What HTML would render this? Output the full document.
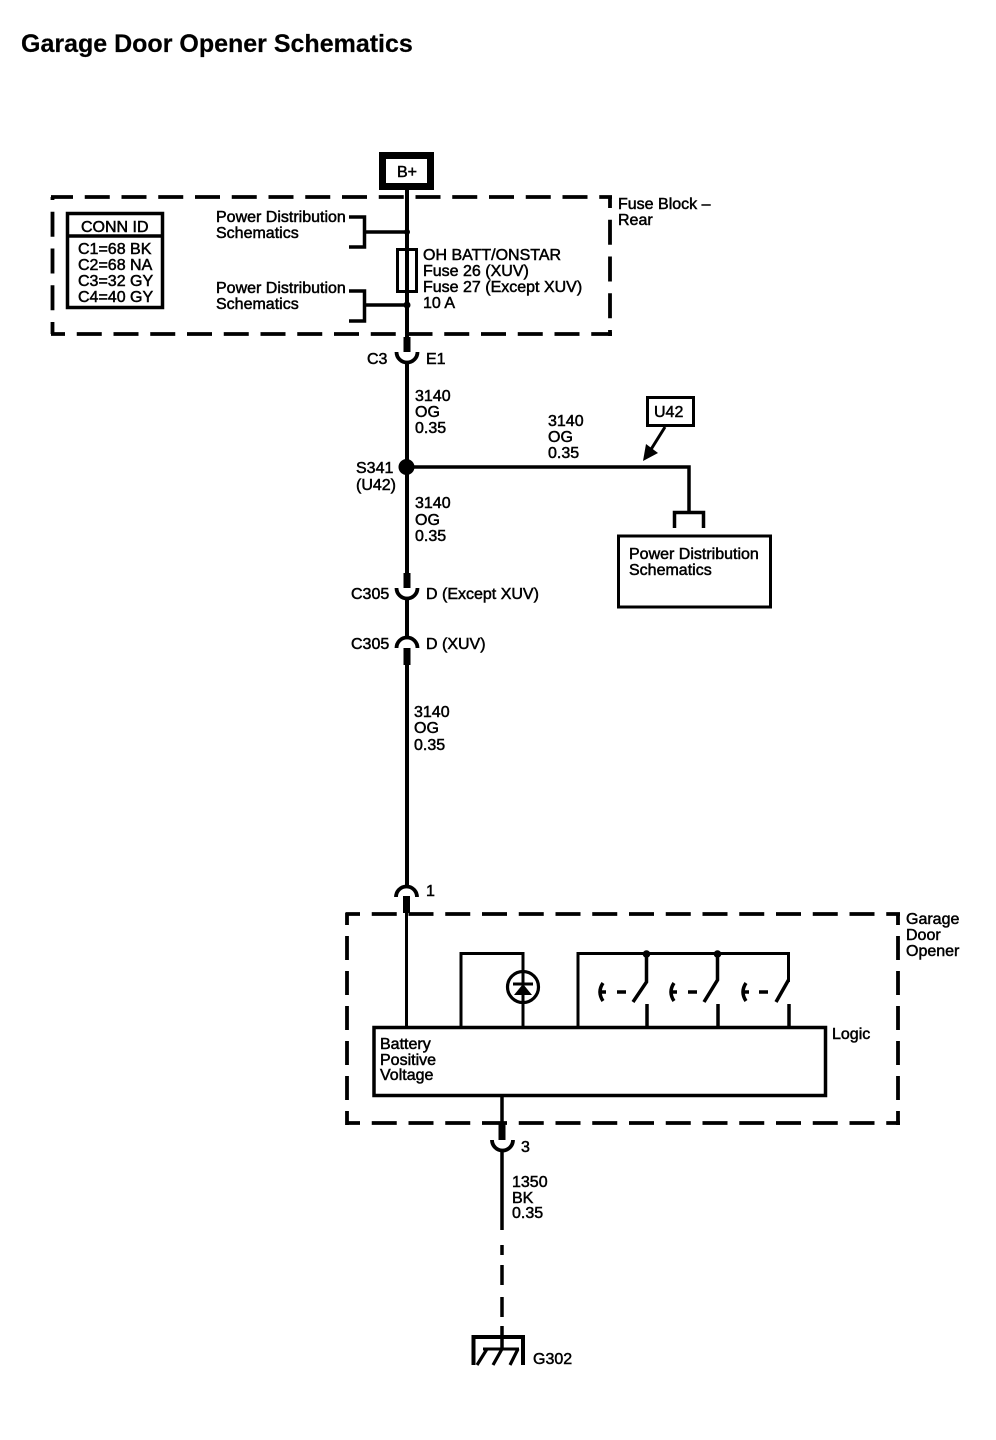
<!DOCTYPE html>
<html>
<head>
<meta charset="utf-8">
<style>
html,body{margin:0;padding:0;background:#fff;width:996px;height:1440px;overflow:hidden}
svg{display:block}
text{font-family:"Liberation Sans",sans-serif;font-size:16px;fill:#000;stroke:#000;stroke-width:.5}
.l{fill:none;stroke:#000;stroke-width:3.5}
.d{fill:none;stroke:#000;stroke-width:3.8;stroke-dasharray:25 11.75}
.v{fill:none;stroke:#000;stroke-width:3.8;stroke-dasharray:24 11}
.a{fill:none;stroke:#000;stroke-width:3.8}
</style>
</head>
<body>
<svg width="996" height="1440" viewBox="0 0 996 1440" xmlns="http://www.w3.org/2000/svg">
<text x="21" y="52" style="font-size:25px;font-weight:bold;stroke-width:.2">Garage Door Opener Schematics</text>

<!-- B+ -->
<rect x="382.5" y="155.5" width="48" height="31" fill="#fff" stroke="#000" stroke-width="7"/>
<text x="397" y="177">B+</text>

<!-- Fuse block dashed -->
<path class="d" d="M51 197H612" stroke-dashoffset="3"/>
<path class="d" d="M610 197V336" stroke-dashoffset="14"/>
<path class="d" d="M51 334H612" stroke-dashoffset="11"/>
<path class="d" d="M52.500 334V197" stroke-dashoffset="13"/>

<!-- Conn ID -->
<rect x="67.5" y="213.5" width="95" height="94" fill="none" stroke="#000" stroke-width="3.5"/>
<path class="l" d="M67 236H163"/>
<text x="81" y="232">CONN ID</text>
<text x="78" y="254">C1=68 BK</text>
<text x="78" y="270">C2=68 NA</text>
<text x="78" y="286">C3=32 GY</text>
<text x="78" y="302">C4=40 GY</text>

<!-- Brackets -->
<path class="l" d="M349 217H364.500V247H349M364 232H407"/>
<path class="l" d="M349 291H364.500V321H349M364 305H407"/>
<circle cx="407" cy="232" r="3"/>
<circle cx="407" cy="305" r="3.500"/>
<text x="216" y="222">Power Distribution</text>
<text x="216" y="238">Schematics</text>
<text x="216" y="293">Power Distribution</text>
<text x="216" y="309">Schematics</text>

<!-- main wire -->
<path d="M407 190V352" fill="none" stroke="#000" stroke-width="4"/>
<rect x="397.500" y="249.500" width="19" height="42" fill="none" stroke="#000" stroke-width="3"/>
<text x="423" y="260">OH BATT/ONSTAR</text>
<text x="423" y="276">Fuse 26 (XUV)</text>
<text x="423" y="292">Fuse 27 (Except XUV)</text>
<text x="423" y="308">10 A</text>
<text x="618" y="209">Fuse Block –</text>
<text x="618" y="225">Rear</text>

<!-- C3 E1 -->
<rect x="403.500" y="337" width="7" height="15"/>
<path class="a" d="M396.500 352A10.500 10.500 0 0 0 417.500 352"/>
<path d="M407 362V573" fill="none" stroke="#000" stroke-width="4"/>
<text x="367" y="364">C3</text>
<text x="426" y="364">E1</text>
<text x="415" y="401">3140</text>
<text x="415" y="417">OG</text>
<text x="415" y="433">0.35</text>

<!-- splice -->
<circle cx="406.500" cy="467" r="8"/>
<text x="356" y="473">S341</text>
<text x="356" y="490">(U42)</text>
<path class="l" d="M407 467H689V513"/>
<text x="548" y="426">3140</text>
<text x="548" y="442">OG</text>
<text x="548" y="458">0.35</text>
<text x="415" y="508">3140</text>
<text x="415" y="525">OG</text>
<text x="415" y="541">0.35</text>

<!-- U42 -->
<rect x="647.500" y="397.500" width="46" height="28" fill="none" stroke="#000" stroke-width="3"/>
<text x="654" y="417">U42</text>
<path d="M665 427L650 451" fill="none" stroke="#000" stroke-width="3"/>
<polygon points="643,461 646,444 658,453"/>

<!-- Power Dist box -->
<path class="l" d="M674.500 528V512.500H703.500V528"/>
<rect x="618.500" y="536" width="152" height="71" fill="none" stroke="#000" stroke-width="3"/>
<text x="629" y="559">Power Distribution</text>
<text x="629" y="575">Schematics</text>

<!-- C305 -->
<rect x="403.500" y="573" width="7" height="15"/>
<path class="a" d="M396.500 588A10.500 10.500 0 0 0 417.500 588"/>
<path d="M407 598V637" fill="none" stroke="#000" stroke-width="4"/>
<text x="351" y="599">C305</text>
<text x="426" y="599">D (Except XUV)</text>
<path class="a" d="M396.500 648A10.500 10.500 0 0 1 417.500 648"/>
<rect x="403.500" y="648" width="7" height="17"/>
<text x="351" y="649">C305</text>
<text x="426" y="649">D (XUV)</text>
<path d="M407 665V885" fill="none" stroke="#000" stroke-width="4"/>
<text x="414" y="717">3140</text>
<text x="414" y="733">OG</text>
<text x="414" y="750">0.35</text>

<!-- connector 1 -->
<path class="a" d="M396 897A10.500 10.500 0 0 1 417 897"/>
<rect x="403" y="896" width="7" height="17"/>
<text x="426" y="896">1</text>
<path d="M406.500 913V1028" fill="none" stroke="#000" stroke-width="3"/>

<!-- Garage dashed -->
<path class="d" d="M345.500 914H900" stroke-dashoffset="10.500"/>
<path class="v" d="M898 913V1125" stroke-dashoffset="12"/>
<path class="d" d="M345.500 1123H900" stroke-dashoffset="10.500"/>
<path class="v" d="M347 913V1125" stroke-dashoffset="12"/>
<text x="906" y="924">Garage</text>
<text x="906" y="940">Door</text>
<text x="906" y="956">Opener</text>

<!-- Logic -->
<rect x="374" y="1027.500" width="451.500" height="68" fill="none" stroke="#000" stroke-width="3.500"/>
<text x="832" y="1039">Logic</text>
<text x="380" y="1049">Battery</text>
<text x="380" y="1065">Positive</text>
<text x="380" y="1080">Voltage</text>

<!-- Diode -->
<path class="l" style="stroke-width:3" d="M461 1027V953.500H523V1027"/>
<circle cx="523" cy="987" r="15.500" fill="none" stroke="#000" stroke-width="3.200"/>
<path d="M513 984H533" stroke="#000" stroke-width="3"/>
<polygon points="523,984 532,995 514,995"/>

<!-- Switches -->
<path class="l" style="stroke-width:3" d="M578 1027V953.500H788.500V982"/>
<circle cx="646.500" cy="954" r="3.800"/>
<circle cx="717.500" cy="954" r="3.800"/>
<path class="l" d="M646.500 953V982L633 1002M647 1004V1027"/>
<path class="l" d="M717.500 953V980L704 1002M718 1004V1027"/>
<path class="l" d="M788.500 980L776 1002M789 1004V1027"/>
<g fill="none" stroke="#000" stroke-width="3.500">
<path d="M603 983Q597 992 603 1001M600 992H606M617 992H626"/>
<path d="M674 983Q668 992 674 1001M671 992H677M688 992H697"/>
<path d="M746 983Q740 992 746 1001M743 992H749M759 992H768"/>
</g>

<!-- lower wire -->
<path d="M502 1096V1125" fill="none" stroke="#000" stroke-width="3.500"/>
<rect x="498.500" y="1123" width="7" height="17"/>
<path class="a" d="M492 1140A10.500 10.500 0 0 0 513 1140"/>
<text x="521" y="1152">3</text>
<path d="M502 1150V1230" fill="none" stroke="#000" stroke-width="3.500"/>
<text x="512" y="1187">1350</text>
<text x="512" y="1203">BK</text>
<text x="512" y="1218">0.35</text>
<path d="M502 1245V1255M502 1265V1285M502 1297V1317M502 1326V1349" fill="none" stroke="#000" stroke-width="3.500"/>

<!-- ground -->
<path class="l" style="stroke-width:4" d="M473.500 1365V1337H523V1365"/>
<path d="M483 1349H519" fill="none" stroke="#000" stroke-width="3"/>
<path d="M477 1365L487 1349M493 1365L502 1349M510 1365L518 1349" fill="none" stroke="#000" stroke-width="3.200"/>
<text x="533" y="1364">G302</text>
</svg>
</body>
</html>
